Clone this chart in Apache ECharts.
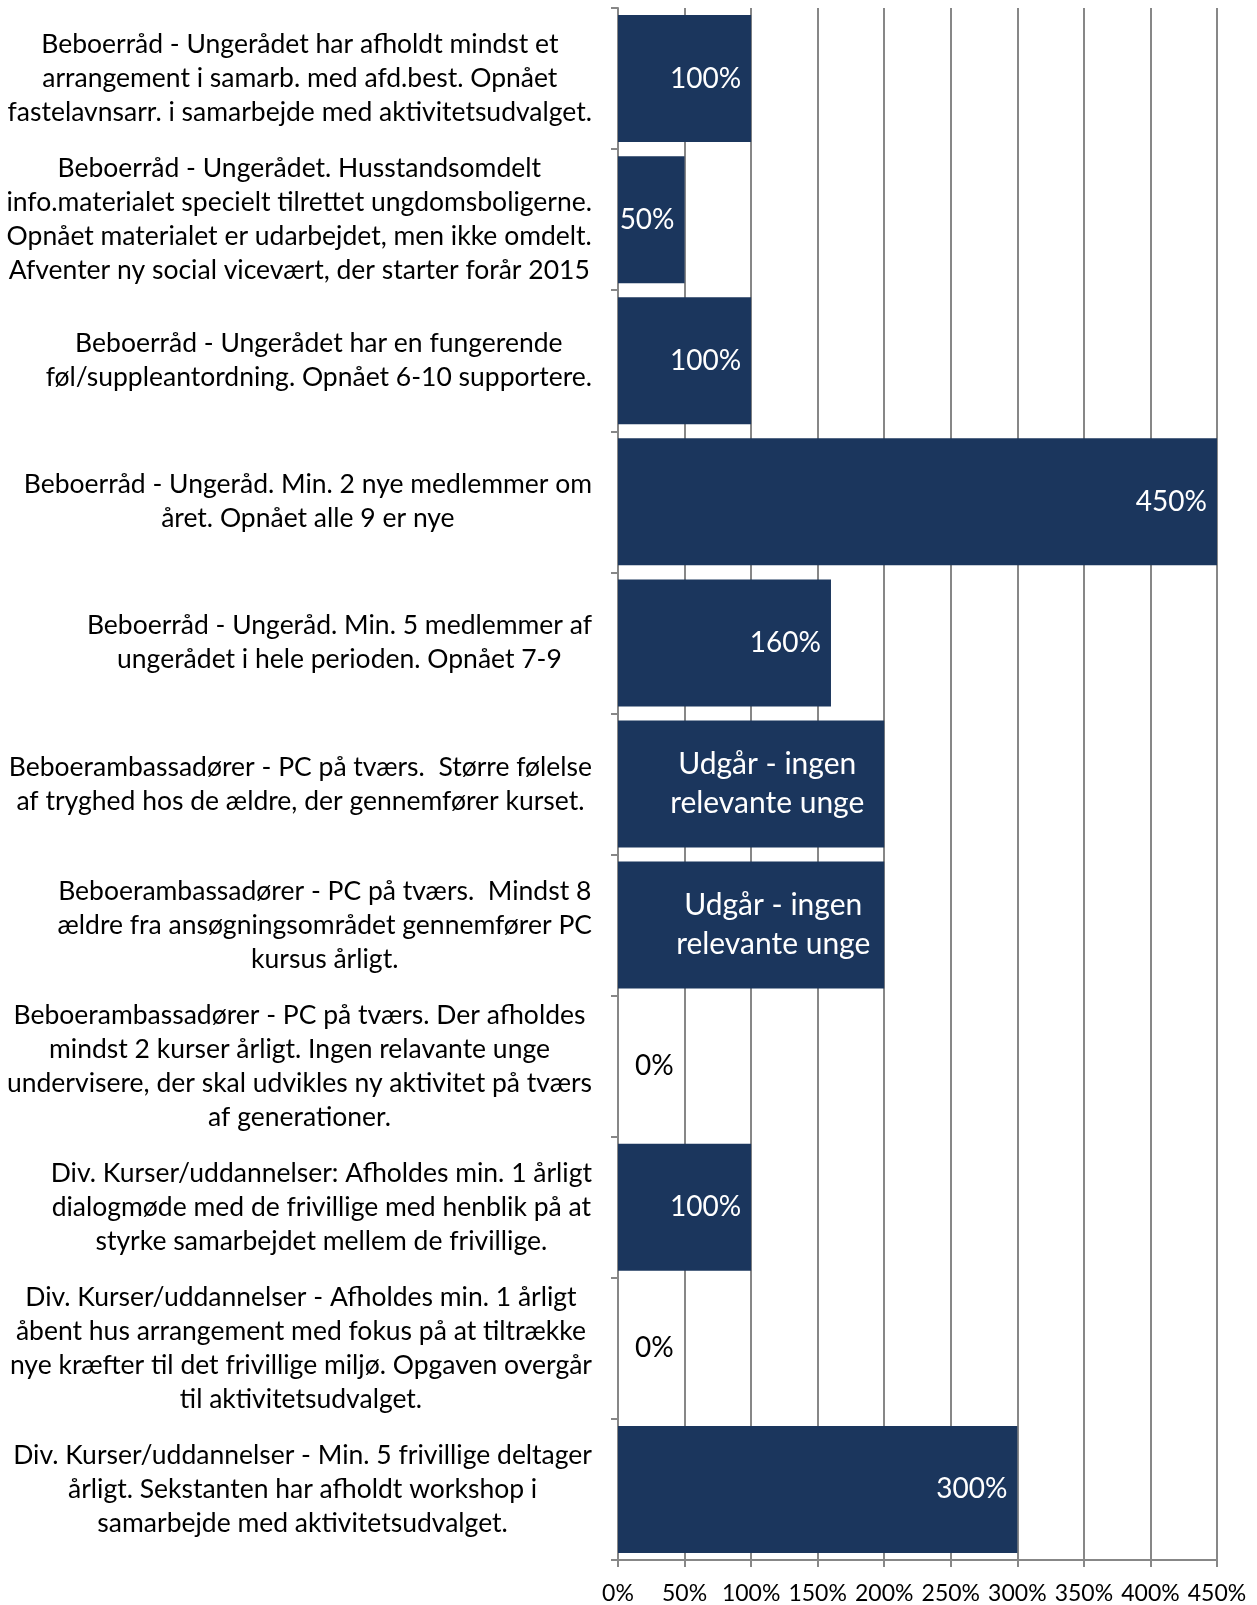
<!DOCTYPE html>
<html>
<head>
<meta charset="utf-8">
<script src="https://cdn.jsdelivr.net/npm/echarts@6/dist/echarts.min.js"></script>
<style>
  html, body { margin: 0; padding: 0; background: #fff; }
  #chart { width: 1257px; height: 1605px; }
</style>
</head>
<body>
<div id="chart"></div>
<script>
// Kategorier (aktiviteter), linjeskift som i originalen
const categories = [
  'Beboerråd - Ungerådet har afholdt mindst et\narrangement i samarb. med afd.best. Opnået\nfastelavnsarr. i samarbejde med aktivitetsudvalget.',
  'Beboerråd - Ungerådet. Husstandsomdelt\ninfo.materialet specielt tilrettet ungdomsboligerne.\nOpnået materialet er udarbejdet, men ikke omdelt.\nAfventer ny social vicevært, der starter forår 2015',
  'Beboerråd - Ungerådet har en fungerende\nføl/suppleantordning. Opnået 6-10 supportere.',
  'Beboerråd - Ungeråd. Min. 2 nye medlemmer om\nåret. Opnået alle 9 er nye',
  'Beboerråd - Ungeråd. Min. 5 medlemmer af\nungerådet i hele perioden. Opnået 7-9',
  'Beboerambassadører - PC på tværs.  Større følelse\naf tryghed hos de ældre, der gennemfører kurset.',
  'Beboerambassadører - PC på tværs.  Mindst 8\nældre fra ansøgningsområdet gennemfører PC\nkursus årligt.',
  'Beboerambassadører - PC på tværs. Der afholdes\nmindst 2 kurser årligt. Ingen relavante unge\nundervisere, der skal udvikles ny aktivitet på tværs\naf generationer.',
  'Div. Kurser/uddannelser: Afholdes min. 1 årligt\ndialogmøde med de frivillige med henblik på at\nstyrke samarbejdet mellem de frivillige.',
  'Div. Kurser/uddannelser - Afholdes min. 1 årligt\nåbent hus arrangement med fokus på at tiltrække\nnye kræfter til det frivillige miljø. Opgaven overgår\ntil aktivitetsudvalget.',
  'Div. Kurser/uddannelser - Min. 5 frivillige deltager\nårligt. Sekstanten har afholdt workshop i\nsamarbejde med aktivitetsudvalget.'
];

// Målopfyldelse i procent
const values = [100, 50, 100, 450, 160, 200, 200, 0, 100, 0, 300];

// Datalabels på søjlerne
const barLabels = [
  '100%', '50%', '100%', '450%', '160%',
  'Udgår - ingen\nrelevante unge', 'Udgår - ingen\nrelevante unge',
  '0%', '100%', '0%', '300%'
];

// Aksens procenttrin
const xMin = 0;
const xMax = 450;
const xStep = 50;

const FONT = 'Lato';
const BAR_COLOR = '#1b365d';
const LINE_COLOR = '#878787';

const chart = echarts.init(document.getElementById('chart'));

// byg søjledata med label pr. punkt
const seriesData = values.map((v, i) => {
  const text = barLabels[i];
  const item = { value: v, label: { formatter: text } };
  if (v === 0) {
    // tom søjle: label står til højre for nul-linjen
    item.label.position = 'right';
    item.label.distance = 17;
    item.label.color = '#000';
  } else if (text.indexOf('\n') >= 0) {
    item.label.align = 'center';
    item.label.distance = i === 5 ? 117 : 111;
    item.label.lineHeight = 39;
    item.label.fontSize = 30;
  }
  return item;
});

const option = {
  backgroundColor: '#fff',
  animation: false,
  grid: {
    left: 618,
    right: 40,
    top: 8,
    bottom: 44
  },
  xAxis: {
    type: 'value',
    min: xMin,
    max: xMax,
    interval: xStep,
    axisLine: { show: true, lineStyle: { color: LINE_COLOR, width: 2 } },
    axisTick: { show: true, length: 7, lineStyle: { color: LINE_COLOR, width: 2 } },
    splitLine: { show: true, lineStyle: { color: LINE_COLOR, width: 2 } },
    axisLabel: {
      formatter: v => v + '%',
      color: '#000',
      fontFamily: FONT,
      fontSize: 23,
      margin: 22,
      showMinLabel: true,
      showMaxLabel: true,
      hideOverlap: false
    }
  },
  yAxis: {
    type: 'category',
    inverse: true,
    data: categories,
    axisLine: { show: true, lineStyle: { color: LINE_COLOR, width: 2 } },
    axisTick: { show: true, length: 7, lineStyle: { color: LINE_COLOR, width: 2 } },
    splitLine: { show: false },
    axisLabel: {
      interval: 0,
      align: 'right',
      margin: 26,
      // hver linje centreres i blokken, blokken står højrestillet
      formatter: v => v.split('\n').map(l => '{c|' + l + '}').join('\n'),
      rich: {
        c: {
          align: 'center',
          color: '#000',
          fontFamily: FONT,
          fontSize: 26.5,
          lineHeight: 34
        }
      }
    }
  },
  series: [{
    type: 'bar',
    data: seriesData,
    barCategoryGap: '10%',
    itemStyle: { color: BAR_COLOR },
    label: {
      show: true,
      position: 'insideRight',
      distance: 10,
      color: '#fff',
      fontFamily: FONT,
      fontSize: 28
    }
  }]
};

chart.setOption(option);
</script>
</body>
</html>
